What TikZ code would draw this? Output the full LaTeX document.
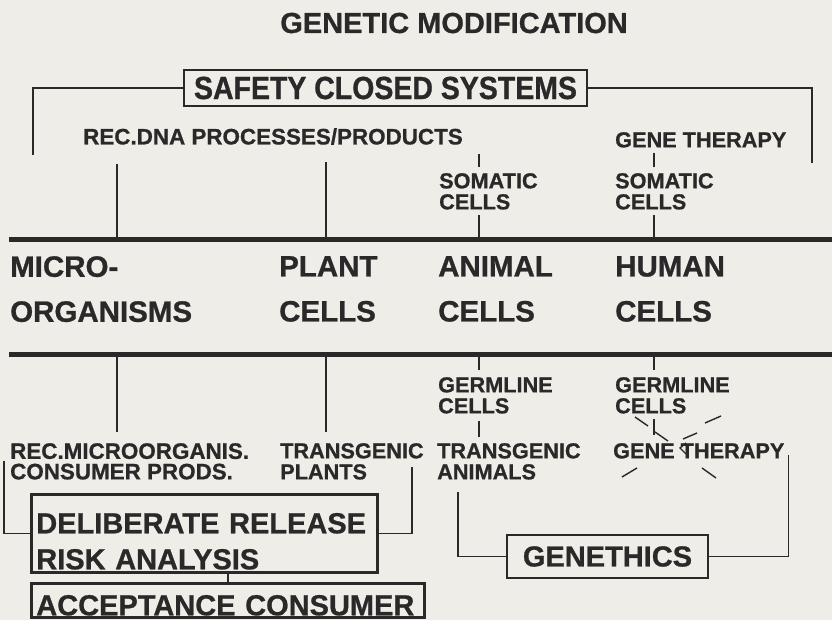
\documentclass[tikz,border=0pt]{standalone}
\usepackage{fontspec}
\setmainfont{Liberation Sans Bold}[FakeBold=0.8]
\usetikzlibrary{calc}
\definecolor{ink}{RGB}{42,40,40}
\definecolor{paper}{RGB}{238,237,232}

\begin{document}
\begin{tikzpicture}[
  x=1pt, y=-1pt,
  lbl/.style={anchor=north west, inner sep=0pt, align=left, text=ink, font=\fontsize{21.7}{21}\selectfont},
  widelbl/.style={lbl, font=\fontsize{22.4}{20.5}\selectfont},
  biglbl/.style={anchor=north west, inner sep=0pt, align=left, text=ink, font=\fontsize{29.5}{45}\selectfont},
  box/.style={draw=ink, line width=2.6pt, text=ink, inner sep=0pt, font=\fontsize{29}{36}\selectfont},
  conn/.style={draw=ink, line width=1.6pt},
  bar/.style={draw=ink, line width=5pt},
  ray/.style={draw=ink, line width=1.4pt}
]
\fill[paper] (0,0) rectangle (832,620);
\useasboundingbox (0,0) rectangle (832,620);

\coordinate (colM) at (117,0);
\coordinate (colP) at (326,0);
\coordinate (colA) at (479,0);
\coordinate (colH) at (654,0);
\coordinate (bar1w) at (9,240);
\coordinate (bar1e) at (832,240);
\coordinate (bar2w) at (9,354);
\coordinate (bar2e) at (832,354);
\coordinate (safeL) at (33,155);
\coordinate (safeR) at (812,163);

\node[anchor=base, inner sep=0pt, text=ink, font=\fontsize{29}{29}\selectfont] (title) at (454,33) {GENETIC MODIFICATION};
\node[box, minimum width=403pt, minimum height=36pt, font=\fontsize{32}{32}\selectfont\addfontfeatures{FakeStretch=0.89}] (safety) at (385.5,88) {SAFETY CLOSED SYSTEMS};

\node[widelbl] (recdna) at (83,128) {REC.DNA PROCESSES/PRODUCTS};
\node[lbl] (gtA) at (615,132) {GENE THERAPY};
\node[lbl] (somA) at (439,173) {SOMATIC\\CELLS};
\node[lbl] (somH) at (615,173) {SOMATIC\\CELLS};

\node[biglbl] (micro) at (10,256) {MICRO-\\ORGANISMS};
\node[biglbl] (plant) at (279,256) {PLANT\\CELLS};
\node[biglbl] (animal) at (438,256) {ANIMAL\\CELLS};
\node[biglbl] (human) at (615,256) {HUMAN\\CELLS};

\node[lbl] (germA) at (438,377) {GERMLINE\\CELLS};
\node[lbl] (germH) at (615,377) {GERMLINE\\CELLS};
\node[widelbl] (recmicro) at (10,443) {REC.MICROORGANIS.\\CONSUMER PRODS.};
\node[lbl] (tplants) at (280,443) {TRANSGENIC\\PLANTS};
\node[lbl] (tanimals) at (437,443) {TRANSGENIC\\ANIMALS};
\node[lbl] (gtB) at (613,443) {GENE THERAPY};

\node[box, anchor=north west, text width=336pt, inner xsep=5pt, inner ysep=3pt, align=left] (delib) at (30,493) {\rule{0pt}{36pt}DELIBERATE RELEASE\\RISK ANALYSIS};
\node[box, anchor=north west, text width=383pt, inner xsep=5pt, inner ysep=2pt, align=left] (accept) at (30,582) {\rule{0pt}{30pt}ACCEPTANCE CONSUMER};
\node[box, minimum width=201pt, minimum height=43pt] (geneth) at (607.5,556.5) {GENETHICS};

\draw[conn] (safety.west) -| (safeL);
\draw[conn] (safety.east) -| (safeR);
\draw[conn] ($(recdna.south -| colM)+(0,19)$) -- (colM |- bar1w);
\draw[conn] ($(recdna.south -| colP)+(0,17)$) -- (colP |- bar1w);
\draw[conn] ($(recdna.south -| colA)+(0,9)$) -- ($(somA.north -| colA)+(0,-6)$);
\draw[conn] ($(gtA.south -| colH)+(0,5)$) -- ($(somH.north -| colH)+(0,-6)$);
\draw[conn] ($(somA.south -| colA)+(0,5)$) -- (colA |- bar1w);
\draw[conn] ($(somH.south -| colH)+(0,5)$) -- (colH |- bar1w);
\draw[bar] (bar1w) -- (bar1e);
\draw[bar] (bar2w) -- (bar2e);
\draw[conn] (colM |- bar2w) -- ($(recmicro.north -| colM)+(0,-11)$);
\draw[conn] (colP |- bar2w) -- ($(tplants.north -| colP)+(0,-11)$);
\draw[conn] (colA |- bar2w) -- ($(germA.north -| colA)+(0,-7)$);
\draw[conn] (colH |- bar2w) -- ($(germH.north -| colH)+(0,-7)$);
\draw[conn] ($(germA.south -| colA)+(0,7)$) -- ($(tanimals.north -| colA)+(0,-6)$);
\draw[conn] ($(germH.south -| colH)+(0,5)$) -- ($(gtB.north -| colH)+(0,-8)$);
\draw[conn] ($(recmicro.west)+(-6,0)$) |- (delib.west);
\draw[conn] (delib.east) -| ($(tplants.south east)+(-12,-13)$);
\draw[conn] (delib.south -| accept.north) -- (accept.north);
\draw[conn] ($(tanimals.south west)+(21,12)$) |- (geneth.west);
\draw[conn] (geneth.east) -| ($(gtB.east)+(4,4)$);

\draw[ray] (635,417) -- (648,426);
\draw[ray] (655,432) -- (668,441);
\draw[ray] (705,423) -- (721,416);
\draw[ray] (683,439) -- (697,433);
\draw[ray] (686,443) -- (680,448) -- (686,454);
\draw[ray] (622,477) -- (637,468);
\draw[ray] (702,468) -- (716,478);
\end{tikzpicture}
\end{document}
